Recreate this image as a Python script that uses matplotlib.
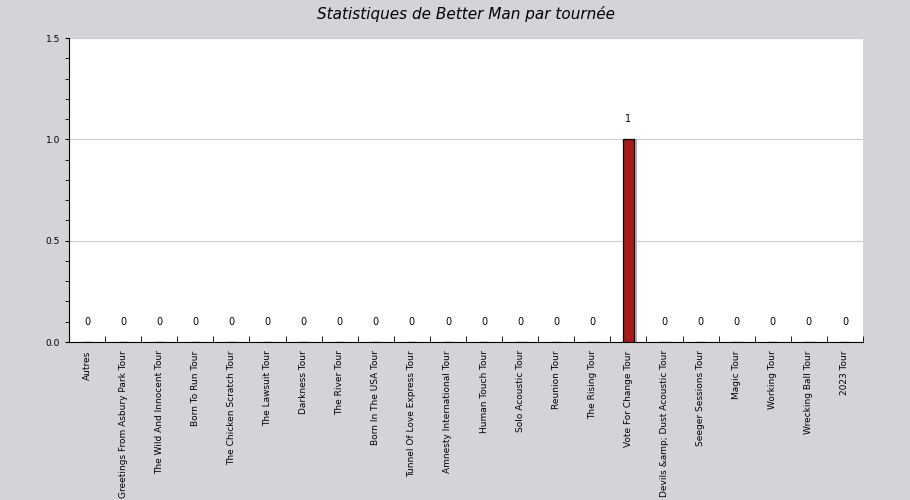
import matplotlib
matplotlib.use("Agg")
import matplotlib.pyplot as plt
import numpy as np

categories = ["Autres", "Greetings From Asbury Park Tour", "The Wild And Innocent Tour",
              "Born To Run Tour", "The Chicken Scratch Tour", "The Lawsuit Tour", "Darkness Tour",
              "The River Tour", "Born In The USA Tour", "Tunnel Of Love Express Tour",
              "Amnesty International Tour", "Human Touch Tour", "Solo Acoustic Tour",
              "Reunion Tour", "The Rising Tour", "Vote For Change Tour",
              "Devils &amp; Dust Acoustic Tour", "Seeger Sessions Tour", "Magic Tour",
              "Working Tour", "Wrecking Ball Tour", "2023 Tour"]
values = [0, 0, 0, 0, 0, 0, 0, 0, 0, 0, 0, 0, 0, 0, 0, 1, 0, 0, 0, 0, 0, 0]

bg = "#d4d3d8"
fig = plt.figure(figsize=(9.1, 5), dpi=100, facecolor=bg)
ax = fig.add_axes([69/910, 158/500, 794/910, 304/500])
x = np.arange(len(categories))
w = 0.3
ax.bar(x + 0.09, values, w, color="#b4b4b4", zorder=2)
ax.bar(x, values, w, color="#a91a1a", edgecolor="black", linewidth=0.9, zorder=3)
for xi, v in zip(x, values):
    ax.text(xi, v + 0.1, str(v), ha="center", va="center", fontsize=7, zorder=4)
ax.set_xlim(-0.5, len(categories) - 0.5)
ax.set_ylim(0, 1.5)
ax.set_yticks([0, 0.5, 1.0, 1.5])
ax.set_yticklabels(["0.0", "0.5", "1.0", "1.5"], fontsize=6.5)
ax.set_yticks(np.arange(0, 1.5, 0.1), minor=True)
ax.yaxis.grid(True, color="#cccccc", linewidth=0.8, zorder=0)
ax.set_xticks(x)
ax.set_xticklabels(categories, rotation=90, fontsize=6.5)
ax.tick_params(axis="x", length=0, pad=6)
ax.set_xticks(np.arange(-0.5, len(categories), 1), minor=True)
ax.tick_params(axis="x", which="minor", direction="in", length=4)
ax.tick_params(axis="y", which="both", direction="out", length=3)
for s in ["top", "right"]:
    ax.spines[s].set_visible(False)
ax.set_title("Statistiques de Better Man par tournée", fontsize=11, style="italic", pad=14)
fig.savefig("out.png", dpi=100, facecolor=bg)
